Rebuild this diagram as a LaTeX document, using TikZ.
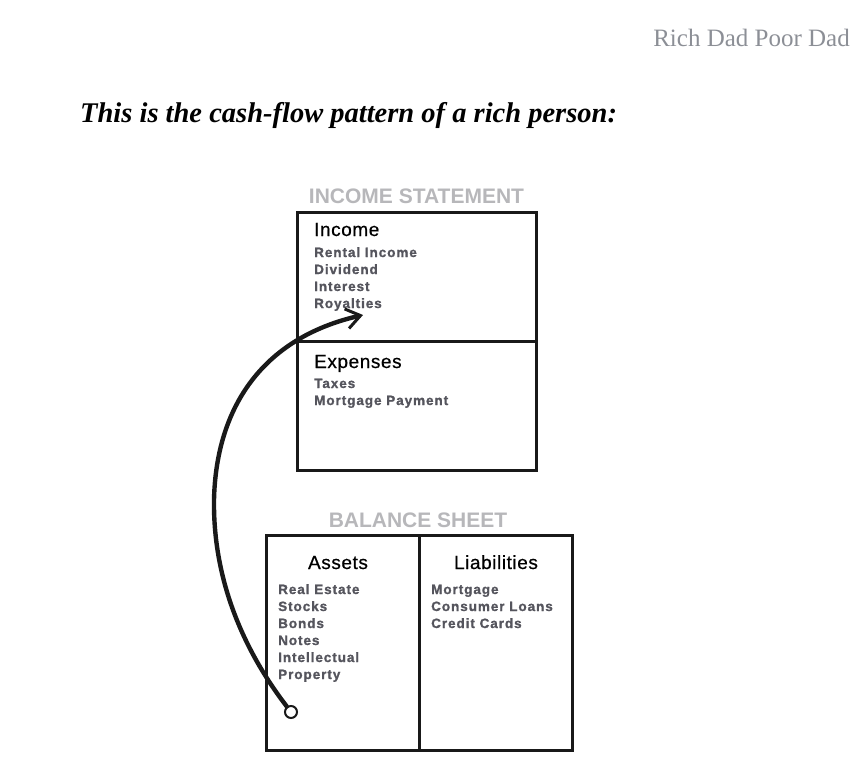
\documentclass[tikz,border=0pt]{standalone}
\usepackage{fontspec}
\setmainfont{Liberation Serif}
\newfontfamily\hsans{Liberation Sans}[LetterSpace=3,FakeBold=0.6]
\newfontfamily\isans{Liberation Sans}[LetterSpace=7,UprightFont=*-Bold,FakeBold=1.2]
\newfontfamily\tsans{Liberation Sans}[UprightFont=*-Bold]
\usetikzlibrary{arrows.meta}
\definecolor{titlegray}{HTML}{B7B7BA}
\definecolor{itemgray}{HTML}{55555D}
\definecolor{headgray}{HTML}{8C8F96}
\begin{document}
\begin{tikzpicture}[x=1pt,y=-1pt,
  box/.style={draw=black!90,line width=3pt,inner sep=0pt,outer sep=0pt,anchor=north west},
  sectitle/.style={text=titlegray,font=\tsans\fontsize{21}{21}\selectfont,inner sep=0pt,anchor=base},
  head/.style={text=black,font=\hsans\fontsize{19}{19}\selectfont,inner sep=0pt},
  item/.style={text=itemgray,font=\isans\fontsize{13.5}{17}\selectfont,inner sep=0pt,anchor=base west},
  flow/.style={line width=4.4pt,black!90,line cap=round},
]
\useasboundingbox (0,0) rectangle (864,774);
% header texts
\node[anchor=base east,inner sep=0pt,text=headgray,font=\fontsize{25}{25}\selectfont] (book) at (850,46) {Rich Dad Poor Dad};
\node[anchor=base west,inner sep=0pt,font=\bfseries\itshape\fontsize{28.5}{28.5}\selectfont] (ttl) at (80,122) {This is the cash-flow pattern of a rich person:};
% income statement
\node[sectitle] (istitle) at (416.5,203.5) {INCOME STATEMENT};
\node[box,minimum width=239pt,minimum height=129pt] (inc) at (297,212) {};
\node[box,minimum width=239pt,minimum height=129pt] (exp) at (297,341) {};
\node[head,anchor=base west] (inch) at (314,236) {Income};
\node[item] (i1) at (314,257) {Rental Income};
\node[item] (i2) at (314,274) {Dividend};
\node[item] (i3) at (314,291) {Interest};
\node[item] (i4) at (314,308) {Royalties};
\node[head,anchor=base west] (exph) at (314,368) {Expenses};
\node[item] (e1) at (314,388) {Taxes};
\node[item] (e2) at (314,405) {Mortgage Payment};
% balance sheet
\node[sectitle] (bstitle) at (418,527.5) {BALANCE SHEET};
\node[box,minimum width=153pt,minimum height=215pt] (ast) at (266,535) {};
\node[box,minimum width=153pt,minimum height=215pt] (lia) at (419,535) {};
\node[head,anchor=base] (asth) at (338,569) {Assets};
\node[head,anchor=base] (liah) at (496,569) {Liabilities};
\node[item] (a1) at (278,594) {Real Estate};
\node[item] (a2) at (278,611) {Stocks};
\node[item] (a3) at (278,628) {Bonds};
\node[item] (a4) at (278,645) {Notes};
\node[item] (a5) at (278,662) {Intellectual};
\node[item] (a6) at (278,679) {Property};
\node[item] (l1) at (431,594) {Mortgage};
\node[item] (l2) at (431,611) {Consumer Loans};
\node[item] (l3) at (431,628) {Credit Cards};
% cash flow arrow
\node[circle,draw=black!90,line width=2pt,fill=white,minimum size=12pt,inner sep=0pt] (src) at (291,712) {};
\coordinate (tip) at (363,315);
\draw[flow,-{Straight Barb[length=14pt,width=20pt,line width=3pt]}] (src) .. controls (245,652) and (213,582) .. (214,500) .. controls (216,408) and (262,338) .. (tip);
\end{tikzpicture}
\end{document}
